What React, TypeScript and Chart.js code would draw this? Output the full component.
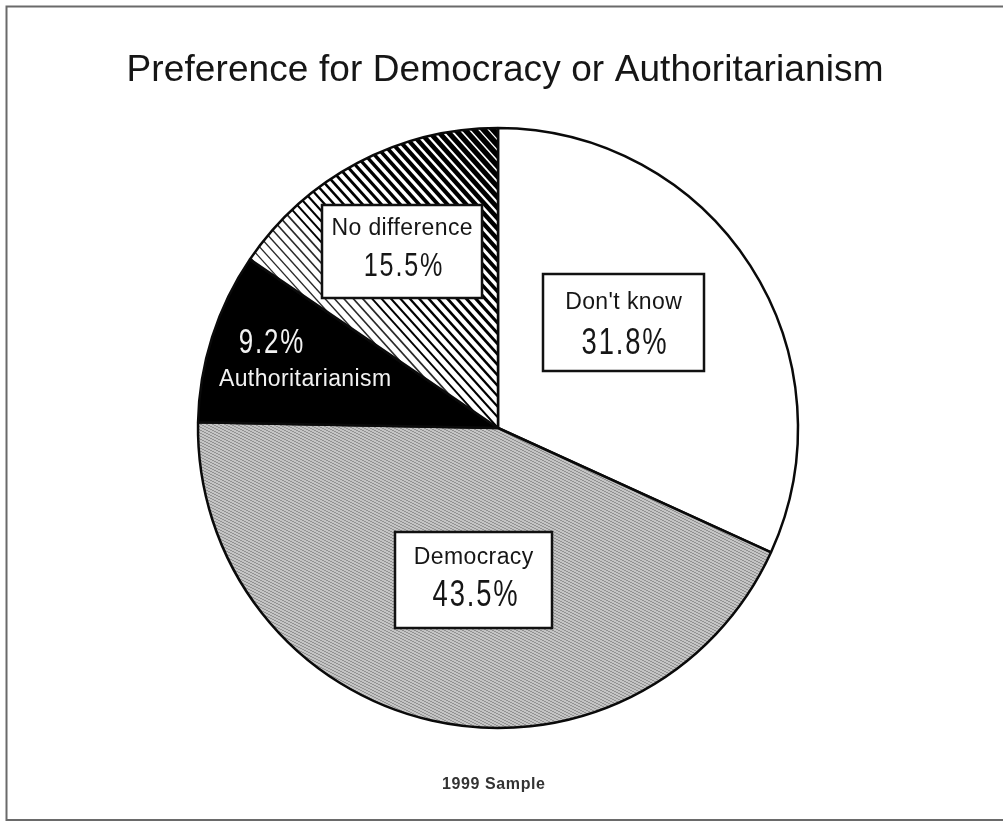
import { useEffect, useRef } from "react";
import { Chart, registerables } from "chart.js";

Chart.register(...registerables);

const categories = ["Don't know", "Democracy", "Authoritarianism", "No difference"];
const values = [31.8, 43.5, 9.2, 15.5];
const valueLabels = ["31.8%", "43.5%", "9.2%", "15.5%"];
const titleText = "Preference for Democracy or Authoritarianism";
const footnote = "1999 Sample";

const W = 1003;
const H = 823;
const CX = 498;
const CY = 428;
const FONT = "'Liberation Sans', Arial, Helvetica, sans-serif";

// label layout (styles / positions of annotations)
const labelLayout = [
  { box: [543, 274, 161, 97], cx: 623.5, nameY: 309, pctCx: 625, pctY: 354, pctSize: 37, color: "#161616" },
  { box: [395, 532, 157, 96], cx: 473.5, nameY: 564, pctCx: 476, pctY: 606, pctSize: 37, color: "#161616" },
  { box: null, cx: 305, nameY: 386, pctCx: 272, pctY: 353, pctSize: 35, color: "#f2f2f2" },
  { box: [322, 205, 160, 93], cx: 402, nameY: 235, pctCx: 404, pctY: 276, pctSize: 34, color: "#161616" },
];

function makeGreyPattern(ctx: CanvasRenderingContext2D) {
  const tile = document.createElement("canvas");
  tile.width = 6;
  tile.height = 3;
  const t = tile.getContext("2d")!;
  const img = t.createImageData(6, 3);
  for (let y = 0; y < 3; y++) {
    for (let x = 0; x < 6; x++) {
      const m = (((x - 2 * y) % 6) + 6) % 6;
      const v = m < 2 ? 145 : 196;
      const i = (y * 6 + x) * 4;
      img.data[i] = v;
      img.data[i + 1] = v;
      img.data[i + 2] = v;
      img.data[i + 3] = 255;
    }
  }
  t.putImageData(img, 0, 0);
  return ctx.createPattern(tile, "repeat")!;
}

function makeHatchPattern(ctx: CanvasRenderingContext2D) {
  const c = document.createElement("canvas");
  c.width = W;
  c.height = H;
  const g = c.getContext("2d")!;
  g.fillStyle = "#ffffff";
  g.fillRect(0, 0, W, H);
  const a = (48 * Math.PI) / 180;
  const dx = Math.cos(a);
  const dy = Math.sin(a);
  const nx = Math.sin(a);
  const ny = -Math.cos(a);
  const spacing = 7;
  for (let tt = -140; tt <= 240; tt += spacing) {
    let s = (tt + 100) / 290;
    s = Math.max(0, Math.min(1, s));
    const w = 1 + 4.8 * Math.pow(s, 1.5);
    const px = CX + nx * tt;
    const py = CY + ny * tt;
    g.strokeStyle = s < 0.3 ? "#2a2a2a" : "#000";
    g.lineWidth = w;
    g.beginPath();
    g.moveTo(px - dx * 1200, py - dy * 1200);
    g.lineTo(px + dx * 1200, py + dy * 1200);
    g.stroke();
  }
  return ctx.createPattern(c, "no-repeat")!;
}

function spacedText(
  ctx: CanvasRenderingContext2D,
  text: string,
  x: number,
  y: number,
  font: string,
  spacing: number,
  color: string
) {
  ctx.save();
  ctx.font = font;
  ctx.fillStyle = color;
  ctx.textAlign = "center";
  ctx.textBaseline = "alphabetic";
  (ctx as any).letterSpacing = spacing + "px";
  ctx.fillText(text, x + spacing / 2, y);
  ctx.restore();
}

function condensedText(
  ctx: CanvasRenderingContext2D,
  text: string,
  x: number,
  y: number,
  size: number,
  color: string
) {
  ctx.save();
  ctx.translate(x, y);
  ctx.scale(0.74, 1);
  ctx.font = `${size}px ${FONT}`;
  ctx.fillStyle = color;
  ctx.textAlign = "center";
  ctx.textBaseline = "alphabetic";
  (ctx as any).letterSpacing = "2.5px";
  ctx.fillText(text, 0, 0);
  ctx.restore();
}

const decorPlugin = {
  id: "decor",
  beforeDraw(chart: any) {
    const ctx = chart.ctx as CanvasRenderingContext2D;
    ctx.save();
    ctx.fillStyle = "#ffffff";
    ctx.fillRect(0, 0, W, H);
    ctx.strokeStyle = "#6a6a6a";
    ctx.lineWidth = 2;
    ctx.beginPath();
    ctx.moveTo(W, 6.5);
    ctx.lineTo(6.5, 6.5);
    ctx.lineTo(6.5, 820);
    ctx.lineTo(W, 820);
    ctx.stroke();
    ctx.restore();
    spacedText(ctx, titleText, 505, 81, `37px ${FONT}`, 0.1, "#161616");
    spacedText(ctx, footnote, 493.5, 789, `bold 16px ${FONT}`, 0.6, "#333333");
  },
  afterDatasetsDraw(chart: any) {
    const ctx = chart.ctx as CanvasRenderingContext2D;
    labelLayout.forEach((lay, i) => {
      if (lay.box) {
        const [bx, by, bw, bh] = lay.box;
        ctx.save();
        ctx.fillStyle = "#ffffff";
        ctx.fillRect(bx, by, bw, bh);
        ctx.strokeStyle = "#111";
        ctx.lineWidth = 2.5;
        ctx.strokeRect(bx, by, bw, bh);
        ctx.restore();
      }
      spacedText(ctx, categories[i], lay.cx, lay.nameY, `23px ${FONT}`, 0.4, lay.color);
      condensedText(ctx, valueLabels[i], lay.pctCx, lay.pctY, lay.pctSize, lay.color);
    });
  },
};

export default function App() {
  const canvasRef = useRef<HTMLCanvasElement | null>(null);

  useEffect(() => {
    const canvas = canvasRef.current;
    if (!canvas) return;
    const ctx = canvas.getContext("2d")!;
    const grey = makeGreyPattern(ctx);
    const hatch = makeHatchPattern(ctx);
    const chart = new Chart(canvas, {
      type: "pie",
      data: {
        labels: categories,
        datasets: [
          {
            data: values,
            backgroundColor: ["#ffffff", grey, "#000000", hatch],
            borderColor: "#0a0a0a",
            borderWidth: 2.5,
          },
        ],
      },
      options: {
        responsive: false,
        animation: false,
        events: [],
        radius: 300,
        layout: { padding: { left: 190, right: 197, top: 120, bottom: 87 } },
        plugins: {
          legend: { display: false },
          title: { display: false },
          tooltip: { enabled: false },
        },
      } as any,
      plugins: [decorPlugin],
    });
    return () => chart.destroy();
  }, []);

  return (
    <div style={{ position: "absolute", left: 0, top: 0, width: W, height: H, background: "#fff" }}>
      <canvas ref={canvasRef} width={W} height={H} style={{ display: "block" }} />
    </div>
  );
}
